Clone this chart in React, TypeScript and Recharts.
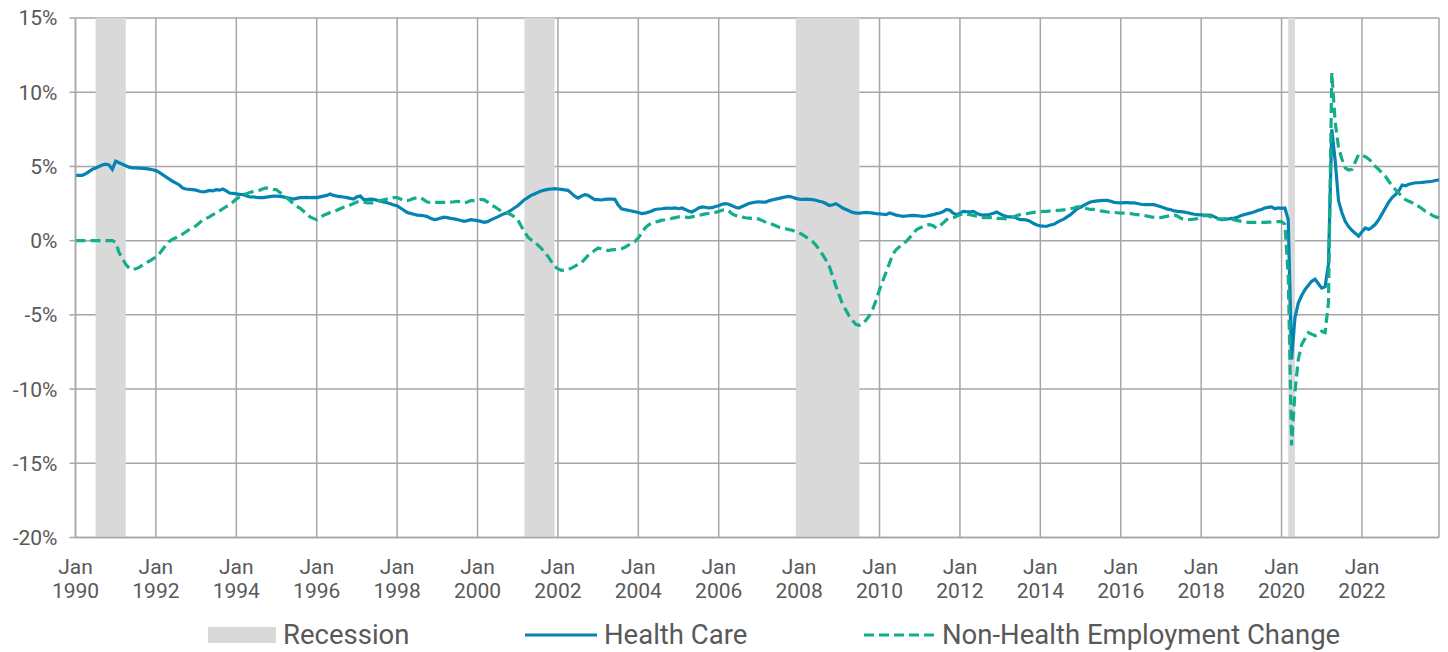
import { LineChart, Line, XAxis, YAxis, CartesianGrid, ReferenceArea } from 'recharts'

// monthly year-over-year change (%), Jan 1990 .. Dec 2023, one row per year
const startYear = 1990

const healthCare = [
  4.4, 4.4, 4.4, 4.5, 4.65, 4.8, 4.9, 5.0, 5.1, 5.15, 5.1, 4.8,
  5.35, 5.25, 5.15, 5.05, 4.95, 4.9, 4.9, 4.88, 4.87, 4.85, 4.82, 4.78,
  4.72, 4.6, 4.45, 4.3, 4.15, 4.0, 3.88, 3.75, 3.55, 3.48, 3.46, 3.44,
  3.4, 3.33, 3.28, 3.32, 3.38, 3.36, 3.43, 3.4, 3.48, 3.35, 3.21, 3.18,
  3.15, 3.12, 3.1, 3.02, 2.94, 2.95, 2.92, 2.9, 2.9, 2.93, 2.97, 3.0,
  3.0, 2.98, 2.95, 2.9, 2.85, 2.8, 2.85, 2.9, 2.9, 2.92, 2.9, 2.92,
  2.9, 2.95, 3.0, 3.05, 3.14, 3.05, 3.0, 2.97, 2.94, 2.9, 2.85, 2.8,
  2.95, 3.0, 2.78, 2.76, 2.8, 2.78, 2.72, 2.65, 2.6, 2.55, 2.48, 2.4,
  2.35, 2.2, 2.05, 1.9, 1.84, 1.78, 1.72, 1.7, 1.68, 1.62, 1.5, 1.42,
  1.45, 1.52, 1.58, 1.55, 1.5, 1.47, 1.42, 1.36, 1.3, 1.35, 1.41, 1.38,
  1.35, 1.3, 1.23, 1.28, 1.4, 1.5, 1.6, 1.72, 1.82, 1.9, 2.05, 2.2,
  2.35, 2.55, 2.76, 2.9, 3.05, 3.14, 3.25, 3.35, 3.4, 3.45, 3.48, 3.5,
  3.48, 3.45, 3.42, 3.39, 3.2, 3.0, 2.87, 3.0, 3.1, 3.05, 2.9, 2.76,
  2.76, 2.74, 2.78, 2.8, 2.8, 2.78, 2.4, 2.15, 2.09, 2.05, 2.0, 1.95,
  1.9, 1.82, 1.85, 1.92, 2.0, 2.1, 2.13, 2.15, 2.18, 2.2, 2.18, 2.2,
  2.15, 2.2, 2.1, 2.0, 1.93, 2.05, 2.2, 2.27, 2.25, 2.2, 2.22, 2.3,
  2.35, 2.45, 2.49, 2.45, 2.35, 2.25, 2.2, 2.3, 2.4, 2.5, 2.55, 2.6,
  2.62, 2.6, 2.6, 2.68, 2.75, 2.8, 2.85, 2.9, 2.95, 2.98, 2.92, 2.85,
  2.8, 2.78, 2.8, 2.78, 2.76, 2.72, 2.65, 2.6, 2.5, 2.36, 2.42, 2.49,
  2.35, 2.2, 2.1, 2.0, 1.9, 1.86, 1.85, 1.88, 1.9, 1.88, 1.85, 1.82,
  1.8, 1.78, 1.75, 1.87, 1.8, 1.72, 1.68, 1.64, 1.66, 1.68, 1.7, 1.68,
  1.66, 1.64, 1.66, 1.7, 1.75, 1.82, 1.86, 1.95, 2.1, 2.05, 1.85, 1.75,
  1.85, 1.97, 1.95, 1.94, 1.97, 1.85, 1.75, 1.72, 1.73, 1.78, 1.85, 1.93,
  1.8, 1.7, 1.62, 1.6, 1.6, 1.5, 1.41, 1.41, 1.38, 1.3, 1.15, 1.05,
  1.0, 0.98, 0.97, 1.05, 1.1, 1.23, 1.35, 1.45, 1.6, 1.75, 1.95, 2.15,
  2.25, 2.38, 2.5, 2.6, 2.65, 2.68, 2.7, 2.72, 2.71, 2.65, 2.58, 2.56,
  2.55, 2.56, 2.56, 2.55, 2.54, 2.5, 2.45, 2.42, 2.43, 2.42, 2.42, 2.35,
  2.28, 2.2, 2.12, 2.08, 2.0, 1.97, 1.95, 1.92, 1.88, 1.82, 1.78, 1.75,
  1.74, 1.72, 1.72, 1.7, 1.6, 1.5, 1.41, 1.43, 1.46, 1.5, 1.52, 1.6,
  1.7, 1.76, 1.82, 1.88, 1.95, 2.04, 2.1, 2.2, 2.24, 2.27, 2.15, 2.2,
  2.18, 2.2, 1.4, -8.0, -5.2, -4.2, -3.7, -3.3, -3.0, -2.74, -2.6, -2.9,
  -3.2, -3.1, -1.6, 7.5, 5.4, 2.7, 1.9, 1.3, 0.95, 0.7, 0.5, 0.3,
  0.6, 0.85, 0.75, 0.9, 1.1, 1.41, 1.8, 2.2, 2.6, 2.9, 3.1, 3.35,
  3.75, 3.7, 3.8, 3.85, 3.9, 3.9, 3.92, 3.95, 3.97, 4.0, 4.05, 4.1,
]

const nonHealth = [
  0, 0, 0, 0, 0, 0, 0, 0, 0, 0, 0, 0,
  -0.1, -0.8, -1.2, -1.6, -1.85, -1.95, -1.9, -1.8, -1.65, -1.5, -1.39, -1.25,
  -1.1, -0.9, -0.6, -0.3, -0.05, 0.1, 0.2, 0.3, 0.45, 0.6, 0.75, 0.87,
  1.0, 1.2, 1.41, 1.5, 1.6, 1.75, 1.86, 2.0, 2.15, 2.3, 2.42, 2.6,
  2.8, 2.95, 3.1, 3.15, 3.25, 3.3, 3.35, 3.4, 3.5, 3.55, 3.5, 3.45,
  3.43, 3.25, 3.1, 2.9, 2.7, 2.5, 2.3, 2.2, 2.0, 1.8, 1.6, 1.5,
  1.41, 1.55, 1.7, 1.8, 1.9, 1.97, 2.05, 2.15, 2.25, 2.3, 2.4, 2.5,
  2.6, 2.65, 2.6, 2.55, 2.55, 2.55, 2.6, 2.7, 2.75, 2.8, 2.85, 2.9,
  2.9, 2.8, 2.7, 2.7, 2.75, 2.85, 2.9, 2.9, 2.75, 2.6, 2.58, 2.58,
  2.58, 2.58, 2.58, 2.58, 2.6, 2.62, 2.65, 2.6, 2.55, 2.6, 2.7, 2.7,
  2.72, 2.78, 2.75, 2.6, 2.4, 2.3, 2.15, 2.0, 1.97, 1.85, 1.75, 1.6,
  1.41, 1.0, 0.6, 0.25, 0.05, -0.05, -0.3, -0.5, -0.8, -1.05, -1.4, -1.73,
  -1.9, -2.0, -1.98, -1.95, -1.85, -1.73, -1.6, -1.5, -1.25, -1.0, -0.83, -0.65,
  -0.5, -0.55, -0.6, -0.67, -0.62, -0.6, -0.58, -0.55, -0.45, -0.3, -0.2, -0.05,
  0.18, 0.5, 0.85, 1.05, 1.19, 1.25, 1.3, 1.38, 1.41, 1.45, 1.5, 1.55,
  1.6, 1.6, 1.58, 1.55, 1.6, 1.65, 1.7, 1.75, 1.8, 1.83, 1.86, 1.9,
  1.97, 2.05, 2.09, 2.0, 1.8, 1.7, 1.64, 1.58, 1.54, 1.52, 1.5, 1.5,
  1.45, 1.35, 1.25, 1.14, 1.1, 1.0, 0.9, 0.85, 0.8, 0.74, 0.7, 0.6,
  0.52, 0.4, 0.25, 0.1, -0.05, -0.3, -0.6, -0.94, -1.3, -1.73, -2.4, -3.07,
  -3.7, -4.3, -4.7, -5.1, -5.4, -5.65, -5.7, -5.6, -5.35, -5.05, -4.6, -4.0,
  -3.3, -2.7, -2.1, -1.5, -0.9, -0.6, -0.4, -0.2, -0.05, 0.2, 0.45, 0.74,
  0.85, 0.95, 1.05, 1.08, 1.0, 0.85, 1.0, 1.2, 1.41, 1.5, 1.55, 1.64,
  1.75, 1.82, 1.78, 1.75, 1.7, 1.65, 1.6, 1.55, 1.55, 1.55, 1.55, 1.5,
  1.5, 1.48, 1.46, 1.5, 1.6, 1.7, 1.75, 1.8, 1.82, 1.86, 1.9, 1.93,
  1.95, 1.97, 1.97, 2.0, 2.02, 2.04, 2.05, 2.07, 2.09, 2.15, 2.2, 2.27,
  2.27, 2.22, 2.15, 2.1, 2.1, 2.05, 2.0, 1.97, 1.93, 1.92, 1.9, 1.88,
  1.86, 1.86, 1.85, 1.82, 1.78, 1.75, 1.72, 1.7, 1.65, 1.6, 1.57, 1.55,
  1.55, 1.6, 1.65, 1.7, 1.72, 1.65, 1.5, 1.45, 1.42, 1.43, 1.45, 1.5,
  1.6, 1.7, 1.68, 1.6, 1.5, 1.46, 1.46, 1.48, 1.5, 1.45, 1.4, 1.35,
  1.3, 1.25, 1.23, 1.23, 1.23, 1.23, 1.23, 1.23, 1.25, 1.25, 1.27, 1.28,
  1.28, 1.1, -2.4, -13.8, -10.2, -8.0, -7.0, -6.6, -6.2, -6.3, -6.4, -6.3,
  -6.1, -6.2, -4.2, 11.3, 8.0, 6.3, 5.5, 4.9, 4.75, 4.8, 5.3, 5.8,
  5.75, 5.65, 5.5, 5.3, 5.0, 4.8, 4.55, 4.33, 4.0, 3.7, 3.43, 3.2,
  2.95, 2.76, 2.65, 2.55, 2.42, 2.3, 2.15, 1.97, 1.85, 1.7, 1.6, 1.55,
]

const recessions = [
  { start: '1990-07', end: '1991-03' },
  { start: '2001-03', end: '2001-11' },
  { start: '2007-12', end: '2009-06' },
  { start: '2020-03', end: '2020-04' },
]

const yTicks = [-20, -15, -10, -5, 0, 5, 10, 15]
const xTickYears = [1990, 1992, 1994, 1996, 1998, 2000, 2002, 2004, 2006, 2008, 2010, 2012, 2014, 2016, 2018, 2020, 2022]

const HC_COLOR = '#0584b3'
const NH_COLOR = '#14ad8c'
const GRID = '#a6a6a6'
const TEXT = '#595959'
const FONT = 'Roboto, "Liberation Sans", sans-serif'

const monthIndex = (ym: string) => {
  const [y, m] = ym.split('-').map(Number)
  return (y - startYear) * 12 + (m - 1)
}

const data = healthCare.map((hc, i) => ({ i, hc, nh: nonHealth[i] }))
const xTicks = xTickYears.map((y) => (y - startYear) * 12)

function DateTick({ x, y, payload }: any) {
  const year = startYear + Math.floor(payload.value / 12)
  return (
    <text x={x} y={y} textAnchor="middle" fill={TEXT} fontSize={21} fontFamily={FONT}>
      <tspan x={x} dy={28}>Jan</tspan>
      <tspan x={x} dy={24}>{year}</tspan>
    </text>
  )
}

function LegendRow() {
  const label = { position: 'absolute' as const, top: 618, fontSize: 27.5, color: TEXT, fontFamily: FONT, lineHeight: '34px' }
  return (
    <>
      <div style={{ position: 'absolute', left: 208, top: 627, width: 68, height: 16, background: '#d9d9d9' }} />
      <div style={{ ...label, left: 283 }}>Recession</div>
      <svg style={{ position: 'absolute', left: 525, top: 630 }} width={74} height={10}>
        <line x1={0} y1={5} x2={72} y2={5} stroke={HC_COLOR} strokeWidth={3.2} />
      </svg>
      <div style={{ ...label, left: 604 }}>Health Care</div>
      <svg style={{ position: 'absolute', left: 864, top: 630 }} width={74} height={10}>
        <line x1={0} y1={5} x2={72} y2={5} stroke={NH_COLOR} strokeWidth={3.2} strokeDasharray="10 5" />
      </svg>
      <div style={{ ...label, left: 942 }}>Non-Health Employment Change</div>
    </>
  )
}

export default function App() {
  return (
    <div style={{ position: 'absolute', left: 0, top: 0, width: 1448, height: 652, background: '#fff' }}>
      <LineChart width={1448} height={652} data={data} margin={{ top: 18, right: 9, bottom: 52, left: 0 }}>
        <CartesianGrid stroke={GRID} strokeWidth={1.5} />
        <XAxis
          dataKey="i"
          type="number"
          domain={[0, healthCare.length - 1]}
          ticks={xTicks}
          interval={0}
          height={62.5}
          axisLine={{ stroke: GRID, strokeWidth: 1.5 }}
          tickLine={false}
          tick={<DateTick />}
        />
        <YAxis
          width={75.5}
          domain={[-20, 15]}
          ticks={yTicks}
          interval={0}
          tickSize={6}
          tickMargin={12}
          axisLine={{ stroke: GRID, strokeWidth: 1.5 }}
          tickLine={{ stroke: GRID, strokeWidth: 1.5 }}
          tick={{ fill: TEXT, fontSize: 21, fontFamily: FONT }}
          tickFormatter={(v: number) => `${v}%`}
        />
        {recessions.map((r) => (
          <ReferenceArea
            key={r.start}
            x1={monthIndex(r.start)}
            x2={monthIndex(r.end) + 1}
            y1={-20}
            y2={15}
            fill="#d9d9d9"
            fillOpacity={1}
            stroke="none"
          />
        ))}
        <Line type="linear" dataKey="hc" stroke={HC_COLOR} strokeWidth={3.2} dot={false} isAnimationActive={false} />
        <Line type="linear" dataKey="nh" stroke={NH_COLOR} strokeWidth={3.2} strokeDasharray="10 5" dot={false} isAnimationActive={false} />
      </LineChart>
      <LegendRow />
    </div>
  )
}
